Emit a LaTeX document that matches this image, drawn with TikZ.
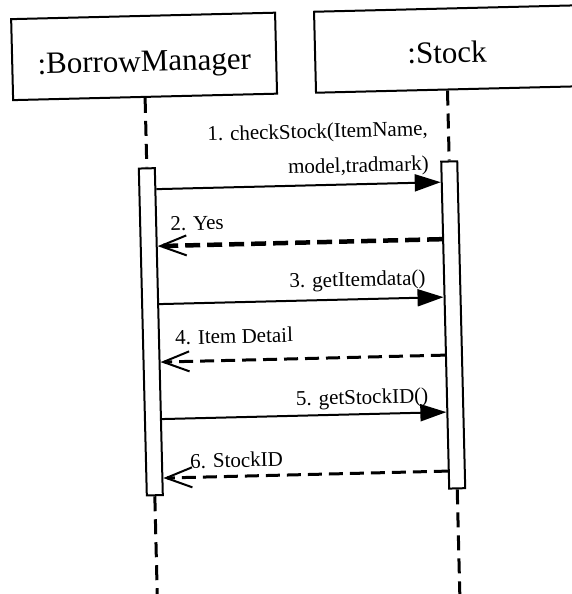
\documentclass[tikz,border=0pt]{standalone}
\usepackage{fontspec}
\setmainfont{Liberation Serif}
\usetikzlibrary{arrows.meta}
\begin{document}
\begin{tikzpicture}[x=1pt,y=-1pt,
  objbox/.style={draw,line width=2pt,minimum width=264pt,minimum height=81pt,inner sep=0pt},
  objtext/.style={font=\fontsize{31}{37}\selectfont,inner sep=0pt,anchor=base},
  act/.style={draw,fill=white,line width=2pt,minimum width=16pt,minimum height=327pt,inner sep=0pt},
  lifeline/.style={line width=3pt,dash pattern=on 15pt off 8pt},
  call/.style={line width=2pt,-{Triangle[length=26pt,width=17pt]}},
  ret/.style={line width=3pt,dash pattern=on 14pt off 7pt,-{Straight Barb[length=26pt,width=20pt,line width=2pt]}},
  retthick/.style={ret,line width=4.5pt,dash pattern=on 15pt off 7pt},
  msg/.style={font=\fontsize{21}{25}\selectfont,inner sep=0pt}]
\useasboundingbox (0,0) rectangle (572,594);
\fill[white] (0,0) rectangle (572,594);
\begin{scope}[transform canvas={rotate around={1.4:(286,297)}}]
  % object boxes
  \node[objbox] (bm) at (150,53) {};
  \node[objbox] (st) at (453,53) {};
  \node[objtext] (bmt) at (150,68) {:BorrowManager};
  \node[objtext] (stt) at (453,67) {:Stock};
  % activations
  \node[act] (bma) at (150,328.5) {};
  \node[act] (sta) at (452.5,329) {};
  % lifelines
  \coordinate (bmend) at (150,640);
  \coordinate (stend) at (452.5,640);
  \draw[lifeline] (bm.south) -- (bma.north);
  \draw[lifeline] (st.south -| sta.north) -- (sta.north);
  \draw[lifeline] (bma.south) -- (bmend);
  \draw[lifeline] (sta.south) -- (stend);
  % message levels
  \coordinate (y1) at (300,186);
  \coordinate (y2) at (300,243);
  \coordinate (y3) at (300,301);
  \coordinate (y4) at (300,359);
  \coordinate (y5) at (300,416);
  \coordinate (y6) at (300,475);
  % messages
  \draw[call] (bma.east |- y1) -- (sta.west |- y1);
  \draw[retthick] (sta.west |- y2) -- (bma.east |- y2);
  \draw[call] (bma.east |- y3) -- (sta.west |- y3);
  \draw[ret] (sta.west |- y4) -- (bma.east |- y4);
  \draw[call] (bma.east |- y5) -- (sta.west |- y5);
  \draw[ret] (sta.west |- y6) -- (bma.east |- y6);
  % labels
  \node[msg,anchor=base east] (l1a) at (432,139) {1. checkStock(ItemName,};
  \node[msg,anchor=base east] (l1b) at (432,174) {model,tradmark)};
  \node[msg,anchor=base west] (l2) at (172,228) {2. Yes};
  \node[msg,anchor=base east] (l3) at (426,288) {3. getItemdata()};
  \node[msg,anchor=base west] (l4) at (174,342) {4. Item Detail};
  \node[msg,anchor=base east] (l5) at (426,406) {5. getStockID()};
  \node[msg,anchor=base west] (l6) at (186,466) {6. StockID};
\end{scope}
\end{tikzpicture}
\end{document}
